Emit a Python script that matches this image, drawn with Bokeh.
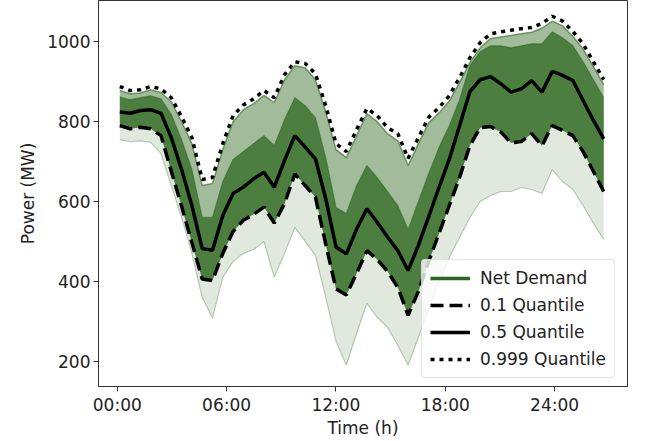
import numpy as np
from bokeh.plotting import figure
from bokeh.models import Range1d, FixedTicker, Legend, LegendItem, ColumnDataSource
from bokeh.embed import file_html
from bokeh.resources import INLINE

# 48 samples across the day (positions in hours as they appear on the axis)
N = 48
hours = 0.14 + np.arange(N) * 0.565

q10 = [790, 782, 786, 782, 765, 676, 588, 497, 406, 402, 470, 525, 553, 568, 586, 546,
       595, 669, 640, 611, 493, 381, 366, 420, 477, 455, 425, 385, 315, 375, 450, 520,
       590, 660, 740, 785, 788, 774, 747, 750, 770, 740, 790, 778, 765, 725, 675, 625]
q50 = [824, 821, 828, 830, 821, 760, 680, 590, 482, 478, 565, 620, 636, 657, 673, 636,
       703, 765, 736, 707, 607, 486, 469, 531, 582, 548, 511, 477, 427, 490, 562, 635,
       706, 790, 875, 905, 913, 895, 874, 882, 903, 874, 926, 916, 903, 853, 803, 757]
q999 = [888, 878, 880, 888, 882, 860, 812, 760, 655, 660, 745, 815, 842, 857, 878, 860,
        918, 950, 946, 920, 840, 745, 725, 780, 833, 815, 785, 770, 708, 760, 811, 835,
        865, 910, 960, 998, 1020, 1025, 1029, 1033, 1036, 1046, 1064, 1052, 1026, 995, 950, 905]
# envelope / dense-core of the net-demand scenarios
scen_max = [878, 870, 872, 880, 873, 850, 800, 745, 640, 645, 730, 800, 830, 845, 866, 848,
            905, 940, 935, 905, 825, 730, 710, 765, 820, 800, 770, 752, 690, 745, 797, 822,
            852, 898, 948, 985, 1008, 1012, 1016, 1020, 1024, 1034, 1052, 1040, 1014, 982, 938, 893]
scen_q90 = [862, 855, 860, 865, 857, 818, 755, 680, 560, 560, 650, 705, 725, 745, 765, 740,
            805, 860, 840, 810, 710, 585, 570, 640, 690, 660, 625, 590, 530, 600, 670, 735,
            790, 855, 940, 975, 990, 990, 985, 990, 995, 995, 1025, 1010, 990, 950, 905, 860]
scen_min = [755, 750, 752, 748, 720, 640, 560, 470, 360, 308, 410, 450, 470, 480, 500, 410,
            470, 535, 500, 465, 360, 250, 190, 270, 345, 310, 285, 240, 190, 260, 330, 400,
            460, 510, 560, 600, 615, 625, 625, 635, 630, 620, 680, 650, 630, 590, 545, 505]

tick_hours = [0, 6, 12, 18, 24]
tick_labels = ["00:00", "06:00", "12:00", "18:00", "24:00"]
y_ticks = [200, 400, 600, 800, 1000]

GREEN = "#2a661c"
FONT = "DejaVu Sans"
FS = "17px"

src = ColumnDataSource(dict(x=hours, q10=q10, q50=q50, q999=q999,
                            smax=scen_max, s90=scen_q90, smin=scen_min))

p = figure(width=667, height=441, output_backend="svg", toolbar_location=None,
           x_range=Range1d(-1.03, 28.0), y_range=Range1d(136.6, 1103.5),
           min_border_left=98, min_border_right=40, min_border_top=0, min_border_bottom=55)
p.background_fill_color = "white"
p.border_fill_color = "white"
p.outline_line_color = "#333333"
p.outline_line_width = 1
p.grid.visible = False

p.varea(x="x", y1="smin", y2="smax", source=src, fill_color=GREEN, fill_alpha=0.14)
p.line(x="x", y="smin", source=src, line_color=GREEN, line_alpha=0.3, line_width=1.2)
p.varea(x="x", y1="q10", y2="smax", source=src, fill_color=GREEN, fill_alpha=0.35)
p.line(x="x", y="smax", source=src, line_color=GREEN, line_alpha=0.6, line_width=1.5)
p.varea(x="x", y1="q10", y2="s90", source=src, fill_color=GREEN, fill_alpha=0.72)
p.line(x="x", y="s90", source=src, line_color=GREEN, line_alpha=0.5, line_width=1.2)

leg_green = p.line(x=[np.nan], y=[np.nan], line_color=GREEN, line_width=3.5)
r10 = p.line(x="x", y="q10", source=src, line_color="black", line_width=3.5, line_dash="13 6")
r50 = p.line(x="x", y="q50", source=src, line_color="black", line_width=3.5)
r999 = p.line(x="x", y="q999", source=src, line_color="black", line_width=3.5, line_dash="4 5")

for ax in (p.xaxis[0], p.yaxis[0]):
    ax.major_label_text_font = FONT
    ax.major_label_text_font_size = FS
    ax.major_label_text_color = "#222222"
    ax.axis_label_text_font = FONT
    ax.axis_label_text_font_size = FS
    ax.axis_label_text_font_style = "normal"
    ax.axis_label_text_color = "#222222"
    ax.axis_line_color = "#333333"
    ax.major_tick_line_color = "#333333"
    ax.major_tick_out = 5
    ax.major_tick_in = 0
    ax.minor_tick_out = 0
    ax.minor_tick_in = 0
    ax.major_label_standoff = 3

p.xaxis.ticker = FixedTicker(ticks=tick_hours)
p.xaxis.major_label_overrides = {h: l for h, l in zip(tick_hours, tick_labels)}
p.xaxis.axis_label = "Time (h)"
p.xaxis.axis_label_standoff = 0
p.yaxis.ticker = FixedTicker(ticks=y_ticks)
p.yaxis.axis_label = "Power (MW)"
p.yaxis.axis_label_standoff = 6

legend = Legend(items=[
    LegendItem(label="Net Demand", renderers=[leg_green]),
    LegendItem(label="0.1 Quantile", renderers=[r10]),
    LegendItem(label="0.5 Quantile", renderers=[r50]),
    LegendItem(label="0.999 Quantile", renderers=[r999]),
], location=(323, 8))
legend.label_text_font = FONT
legend.label_text_font_size = FS
legend.label_text_color = "#222222"
legend.glyph_width = 40
legend.glyph_height = 20
legend.label_height = 20
legend.label_standoff = 10
legend.spacing = 7
legend.padding = 8
legend.margin = 0
legend.background_fill_color = "white"
legend.background_fill_alpha = 0.8
legend.border_line_color = "#cccccc"
legend.border_line_width = 1
if "border_radius" in Legend.properties():
    legend.border_radius = 4
p.add_layout(legend, "center")

open("out.html", "w").write(file_html(p, INLINE))
